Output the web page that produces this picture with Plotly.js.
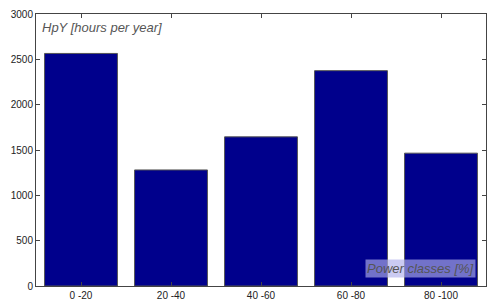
<!DOCTYPE html>
<html>
<head>
<meta charset="utf-8">
<script src="https://cdn.plot.ly/plotly-3.0.1.min.js"></script>
<style>html,body{margin:0;padding:0;background:#fff;}#chart{width:488px;height:300px;}</style>
</head>
<body>
<div id="chart"></div>
<script>
const categories = ["0 -20", "20 -40", "40 -60", "60 -80", "80 -100"];
const hoursPerYear = [2565, 1280, 1645, 2375, 1465];
const yTicks = [0, 500, 1000, 1500, 2000, 2500, 3000];

const trace = {
  type: "bar",
  x: categories.map((c, i) => i + 1),
  y: hoursPerYear,
  width: 0.81,
  marker: { color: "#00008c", line: { color: "#555555", width: 1 } },
  hoverinfo: "skip"
};

const layout = {
  width: 488, height: 300,
  margin: { l: 36, r: 2, t: 14, b: 14 },
  paper_bgcolor: "#ffffff",
  plot_bgcolor: "#ffffff",
  showlegend: false,
  font: { family: "Liberation Sans, Arial, sans-serif", size: 10, color: "#222" },
  xaxis: {
    range: [0.5, 5.5],
    tickmode: "array",
    tickvals: categories.map((c, i) => i + 1),
    ticktext: categories,
    ticks: "inside", ticklen: 4, tickcolor: "#444",
    showline: true, linecolor: "#444", linewidth: 1, mirror: "ticks",
    showgrid: false, zeroline: false,
    tickfont: { size: 10, color: "#222" }
  },
  yaxis: {
    range: [0, 3000],
    tickmode: "array",
    tickvals: yTicks,
    ticks: "inside", ticklen: 4, tickcolor: "#444",
    showline: true, linecolor: "#444", linewidth: 1, mirror: "ticks",
    showgrid: false, zeroline: false,
    tickfont: { size: 10, color: "#222" }
  },
  annotations: [
    {
      text: "HpY [hours per year]",
      xref: "paper", yref: "paper", x: 0.008, y: 0.985,
      xanchor: "left", yanchor: "top", showarrow: false,
      font: { family: "Liberation Sans, Arial, sans-serif", size: 13, color: "#555", style: "italic" }
    },
    {
      text: "Power classes [%]",
      xref: "paper", yref: "paper", x: 0.978, y: 0.03,
      xanchor: "right", yanchor: "bottom", showarrow: false,
      bgcolor: "rgba(175,175,235,0.65)", borderpad: 1,
      font: { family: "Liberation Sans, Arial, sans-serif", size: 13, color: "#555", style: "italic" }
    }
  ]
};

Plotly.newPlot("chart", [trace], layout, { staticPlot: true, displayModeBar: false });
</script>
</body>
</html>
